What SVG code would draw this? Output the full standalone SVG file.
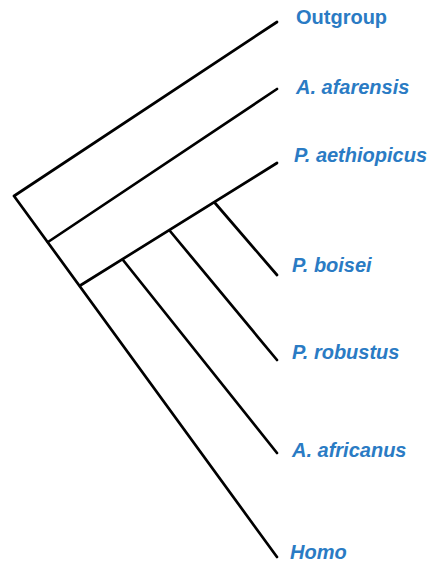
<svg xmlns="http://www.w3.org/2000/svg" width="436" height="563" viewBox="0 0 436 563">
<style>
.br{stroke:#000;stroke-width:2.7;fill:none;stroke-linecap:round;stroke-linejoin:round}
.lbl{font-family:"Liberation Sans",Arial,sans-serif;font-size:20px;font-weight:bold;font-style:italic;fill:#2A7BC4}
.up{font-style:normal}
</style>
<rect width="436" height="563" fill="#fff"/>
<g id="connectors">
<polyline class="br" points="277,22 14,196 277,557"/>
<line class="br" x1="48" y1="242" x2="277" y2="89"/>
<line class="br" x1="81" y1="285" x2="277" y2="163"/>
<line class="br" x1="215" y1="203" x2="277" y2="275"/>
<line class="br" x1="170" y1="231" x2="277" y2="360"/>
<line class="br" x1="123" y1="260" x2="277" y2="453"/>
</g>
<g id="outgroup"><text class="lbl up" x="296" y="24">Outgroup</text></g>
<g id="a_afarensis"><text class="lbl" x="296" y="94">A. afarensis</text></g>
<g id="p_aethiopicus"><text class="lbl" x="294" y="162">P. aethiopicus</text></g>
<g id="p_boisei"><text class="lbl" x="292" y="272">P. boisei</text></g>
<g id="p_robustus"><text class="lbl" x="292" y="359">P. robustus</text></g>
<g id="a_africanus"><text class="lbl" x="292" y="457">A. africanus</text></g>
<g id="homo"><text class="lbl" x="290" y="559">Homo</text></g>
</svg>
